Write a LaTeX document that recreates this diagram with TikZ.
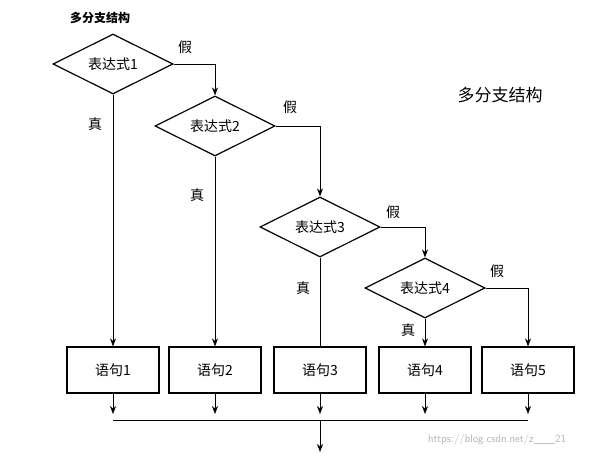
\documentclass[tikz,border=0pt]{standalone}
\usepackage{fontspec}
\newfontfamily\cjk{Noto Sans CJK SC}
\usetikzlibrary{shapes.geometric,arrows.meta}
\begin{document}
\begin{tikzpicture}[x=1pt,y=-1pt,
  dia/.style={diamond,draw,line width=1.2pt,minimum width=120pt,minimum height=60pt,inner sep=0pt,font=\cjk\fontsize{14}{14}\selectfont,aspect=2},
  box/.style={draw,line width=1.2pt,minimum width=92pt,minimum height=46pt,font=\cjk\fontsize{14}{14}\selectfont},
  lab/.style={font=\cjk\fontsize{14}{14}\selectfont},
  arr/.style={-{Stealth[length=8pt,width=6pt]},line width=0.6pt}]
\useasboundingbox (0,0) rectangle (602,460);
\node[font=\cjk\bfseries\fontsize{12}{12}\selectfont] (t) at (100,18) {多分支结构};
\node[font=\cjk\fontsize{17}{17}\selectfont] (t2) at (500,95) {多分支结构};
\node[dia] (d1) at (113,64) {表达式1};
\node[dia] (d2) at (215,126) {表达式2};
\node[dia] (d3) at (320,227) {表达式3};
\node[dia] (d4) at (425,288) {表达式4};
\foreach \i/\x in {1/113,2/215,3/320,4/425,5/528}{
  \node[box] (b\i) at (\x,370) {语句\i};
  \coordinate (e\i) at (\x,414);
  \draw[arr] (b\i.south) -- (e\i);
}
\draw[arr] (d1.east) -| (d2.north);
\draw[arr] (d2.east) -| (d3.north);
\draw[arr] (d3.east) -| (d4.north);
\draw[arr] (d4.east) -| (b5.north);
\draw[arr] (d1.south) -- (b1.north);
\draw[arr] (d2.south) -- (b2.north);
\draw[line width=0.6pt] (d3.south) -- (b3.north);
\draw[arr] (d4.south) -- (b4.north);
\coordinate (l) at (113,420); \coordinate (r) at (528,420);
\coordinate (m) at (320,420); \coordinate (o) at (320,452);
\draw[line width=0.6pt] (l) -- (r);
\draw[arr] (m) -- (o);
\node[lab] (f1) at (185,47) {假};
\node[lab] (f2) at (290,107) {假};
\node[lab] (f3) at (393,212) {假};
\node[lab] (f4) at (497,271) {假};
\node[lab] (z1) at (95,124) {真};
\node[lab] (z2) at (197,195) {真};
\node[lab] (z3) at (303,288) {真};
\node[lab] (z4) at (408,330) {真};
\node[font=\sffamily\fontsize{11}{11}\selectfont,text=gray!60] (w) at (497,440) {https://blog.csdn.net/z\_\_\_21};
\end{tikzpicture}
\end{document}
